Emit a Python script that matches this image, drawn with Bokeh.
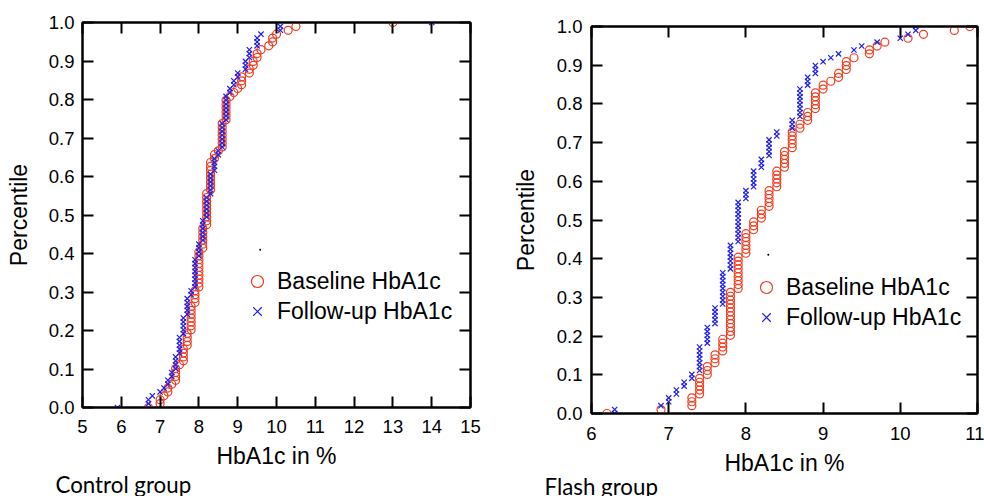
from bokeh.plotting import figure
from bokeh.models import (LinearAxis, Legend, LegendItem, Title, Range1d,
                          FixedTicker, PrintfTickFormatter)
from bokeh.layouts import row, column
from bokeh.embed import file_html
from bokeh.resources import INLINE

# ---------------- data (HbA1c value -> number of patients) ----------------
ctrl_base_vals = [6.7, 7.0, 7.1, 7.2, 7.3, 7.4, 7.5, 7.6, 7.7, 7.8, 7.9, 8.0, 8.1, 8.2,
                  8.3, 8.4, 8.5, 8.6, 8.7, 8.8, 8.9, 9.0, 9.1, 9.3, 9.4, 9.5, 9.6, 9.8,
                  9.9, 10.0, 10.3, 10.5, 13.0]
ctrl_base_counts = [1, 2, 1, 2, 1, 4, 1, 4, 4, 7, 4, 10, 6, 9,
                    8, 2, 1, 7, 6, 1, 1, 1, 3, 2, 2, 2, 1, 1,
                    2, 1, 1, 1, 1]

ctrl_follow_vals = [5.9, 6.7, 6.8, 7.0, 7.1, 7.2, 7.3, 7.4, 7.5, 7.6, 7.7, 7.8, 7.9, 8.0,
                    8.1, 8.2, 8.3, 8.4, 8.5, 8.6, 8.7, 8.8, 8.9, 9.0, 9.2, 9.3, 9.5, 9.6,
                    10.1, 14.0]
ctrl_follow_counts = [1, 2, 1, 1, 1, 2, 2, 4, 5, 5, 5, 2, 8, 4,
                      6, 6, 6, 4, 2, 7, 7, 2, 2, 2, 3, 3, 3, 1,
                      2, 1]

flash_base_vals = [6.2, 6.9, 7.3, 7.4, 7.5, 7.6, 7.7, 7.8, 7.9, 8.0, 8.1, 8.2, 8.3, 8.4,
                   8.5, 8.6, 8.7, 8.8, 8.9, 9.0, 9.1, 9.2, 9.3, 9.4, 9.6, 9.7, 9.8, 10.1,
                   10.3, 10.7, 10.9]
flash_base_counts = [1, 1, 3, 5, 3, 3, 4, 12, 9, 6, 3, 3, 5, 5,
                     5, 5, 2, 3, 5, 2, 1, 2, 3, 1, 2, 1, 1, 1,
                     1, 1, 1]

flash_follow_vals = [6.3, 6.9, 7.0, 7.1, 7.2, 7.3, 7.4, 7.5, 7.6, 7.7, 7.8, 7.9, 8.0, 8.1,
                     8.2, 8.3, 8.4, 8.6, 8.7, 8.8, 8.9, 9.0, 9.1, 9.2, 9.4, 9.5, 9.7, 10.0,
                     10.1, 10.2]
flash_follow_counts = [2, 1, 2, 2, 2, 2, 7, 5, 5, 9, 7, 11, 3, 5,
                       3, 5, 2, 3, 8, 3, 3, 1, 1, 1, 1, 1, 1, 1,
                       1, 2]

ctrl_x_ticks = [5, 6, 7, 8, 9, 10, 11, 12, 13, 14, 15]
flash_x_ticks = [6, 7, 8, 9, 10, 11]
y_ticks = [0.0, 0.1, 0.2, 0.3, 0.4, 0.5, 0.6, 0.7, 0.8, 0.9, 1.0]

series_labels = ["Baseline HbA1c", "Follow-up HbA1c"]
panel_titles = ["Control group", "Flash group"]
x_title = "HbA1c in %"
y_title = "Percentile"

# stray dot visible in both original panels
ctrl_dot = ([9.58], [0.41])
flash_dot = ([8.29], [0.41])

RED = "#F03C1E"
BLUE = "#1E1EEB"
FONT = "Liberation Sans"


def ecdf(vals, counts):
    xs = []
    for v, c in zip(vals, counts):
        xs += [v] * c
    n = len(xs)
    ys = [i / (n - 1) for i in range(n)]
    return xs, ys


def style_axis(ax, ticks, labels=True, fmt=None):
    ax.ticker = FixedTicker(ticks=ticks)
    if fmt is not None:
        ax.formatter = PrintfTickFormatter(format=fmt)
    ax.axis_line_width = 2
    ax.axis_line_color = "black"
    ax.major_tick_in = 11
    ax.major_tick_out = 0
    ax.major_tick_line_width = 2
    ax.major_tick_line_color = "black"
    ax.minor_tick_line_color = None
    ax.major_label_text_font = FONT
    if labels:
        ax.major_label_text_color = "black"
        ax.major_label_text_font_size = "18.5px"
    else:
        ax.major_label_text_color = None
        ax.major_label_text_font_size = "1px"
        ax.major_label_standoff = 0
    ax.axis_label_text_font = FONT
    ax.axis_label_text_font_style = "normal"
    ax.axis_label_text_font_size = "23px"
    ax.axis_label_text_color = "black"


def make_panel(base, follow, xr, xticks, dot, title, width, height, borders,
               legend_loc, stands, title_offset, title_standoff):
    bl, br, bt, bb = borders
    p = figure(width=width, height=height, x_range=Range1d(*xr), y_range=Range1d(0, 1),
               output_backend="svg", toolbar_location=None,
               min_border_left=bl, min_border_right=br, min_border_top=bt,
               min_border_bottom=bb, x_axis_type=None, y_axis_type=None)
    p.outline_line_color = "black"
    p.outline_line_width = 2
    p.background_fill_color = "white"
    p.border_fill_color = "white"

    xl_st, xt_st, yl_st, yt_st = stands
    xb = LinearAxis(axis_label=x_title)
    style_axis(xb, xticks)
    xb.major_label_standoff = xl_st
    xb.axis_label_standoff = xt_st
    p.add_layout(xb, "below")
    yl = LinearAxis(axis_label=y_title)
    style_axis(yl, y_ticks, fmt="%.1f")
    yl.major_label_standoff = yl_st
    yl.axis_label_standoff = yt_st
    p.add_layout(yl, "left")
    xa = LinearAxis()
    style_axis(xa, xticks, labels=False)
    p.add_layout(xa, "above")
    yr = LinearAxis()
    style_axis(yr, y_ticks, labels=False)
    p.add_layout(yr, "right")

    p.add_layout(Title(text=title, align="left", offset=title_offset,
                       standoff=title_standoff, text_font="Lato",
                       text_font_size="22.3px", text_font_style="normal",
                       text_color="black"), "below")

    bx, by = ecdf(*base)
    fx, fy = ecdf(*follow)
    r1 = p.scatter(bx, by, marker="circle", size=8, fill_color=None,
                   line_color=RED, line_width=1.2)
    r2 = p.scatter(fx, fy, marker="x", size=7.5, line_color=BLUE, line_width=1.2)
    p.scatter(dot[0], dot[1], marker="circle", size=2, fill_color="black",
              line_color=None)

    legend = Legend(items=[LegendItem(label=series_labels[0], renderers=[r1]),
                           LegendItem(label=series_labels[1], renderers=[r2])],
                    location=legend_loc, orientation="vertical",
                    glyph_width=30, glyph_height=30, label_height=27,
                    spacing=-3, padding=0, margin=0, label_standoff=5,
                    border_line_alpha=0, background_fill_alpha=0,
                    label_text_font=FONT, label_text_font_size="23px",
                    label_text_color="black")
    p.add_layout(legend, "center")
    return p


p1 = make_panel((ctrl_base_vals, ctrl_base_counts), (ctrl_follow_vals, ctrl_follow_counts),
                (5, 15), ctrl_x_ticks, ctrl_dot, panel_titles[0], 496, 496,
                (82, 26, 22, 89), (160, 81), (12, 7, 8, 14), -27, -6)
p2 = make_panel((flash_base_vals, flash_base_counts), (flash_follow_vals, flash_follow_counts),
                (6, 11), flash_x_ticks, flash_dot, panel_titles[1], 488, 496,
                (95, 7, 26, 83), (160, 81), (13, 7, 9, 15), -47, -15)

layout = row(p1, column(p2))
open("out.html", "w").write(file_html(layout, INLINE))
